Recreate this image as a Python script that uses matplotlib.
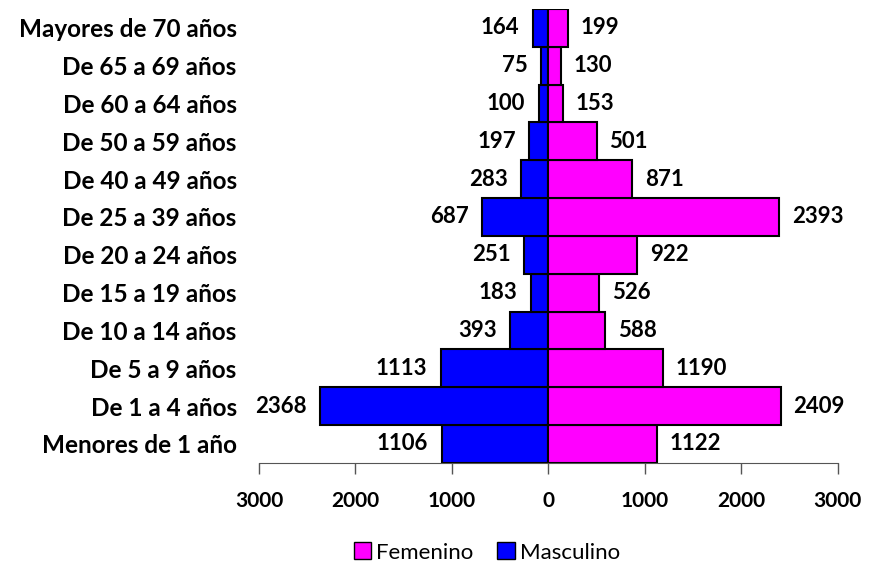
import numpy as np
import matplotlib
matplotlib.use('Agg')
import matplotlib.pyplot as plt
import matplotlib.patches as mpatches

plt.rcParams['font.family'] = ['Lato', 'DejaVu Sans']

grupos = ['Menores de 1 año', 'De 1 a 4 años', 'De 5 a 9 años', 'De 10 a 14 años',
          'De 15 a 19 años', 'De 20 a 24 años', 'De 25 a 39 años', 'De 40 a 49 años',
          'De 50 a 59 años', 'De 60 a 64 años', 'De 65 a 69 años', 'Mayores de 70 años']
masculino = [1106, 2368, 1113, 393, 183, 251, 687, 283, 197, 100, 75, 164]
femenino = [1122, 2409, 1190, 588, 526, 922, 2393, 871, 501, 153, 130, 199]
xticks = [-3000, -2000, -1000, 0, 1000, 2000, 3000]

fig = plt.figure(figsize=(8.69, 5.63), dpi=100)
ax = fig.add_axes([0.298, 0.178, 0.666, 0.806])

y = np.arange(len(grupos))
ax.barh(y, -np.array(masculino), height=1.0, color='#0000FF', edgecolor='black', linewidth=1.5)
ax.barh(y, femenino, height=1.0, color='#FF00FF', edgecolor='black', linewidth=1.5)

for i in range(len(grupos)):
    ax.text(-masculino[i] - 140, y[i], str(masculino[i]), ha='right', va='center',
            fontsize=16, fontweight='bold')
    ax.text(femenino[i] + 130, y[i], str(femenino[i]), ha='left', va='center',
            fontsize=16, fontweight='bold')

ax.set_xlim(-3000, 3000)
ax.set_ylim(-0.5, len(grupos) - 0.5)
ax.set_xticks(xticks)
ax.set_xticklabels([str(abs(t)) for t in xticks], fontsize=15, fontweight='bold')
ax.set_yticks(y)
ax.set_yticklabels(grupos, fontsize=17.5, fontweight='bold')
ax.tick_params(axis='y', length=0, pad=16)
ax.tick_params(axis='x', direction='out', length=8, width=1, color='#555555', pad=12)

for s in ['top', 'right', 'left']:
    ax.spines[s].set_visible(False)
ax.spines['bottom'].set_color('#555555')

fem_leg = mpatches.Patch(facecolor='#FF00FF', edgecolor='black', label='Femenino')
mas_leg = mpatches.Patch(facecolor='#0000FF', edgecolor='black', label='Masculino')
fig.legend(handles=[fem_leg, mas_leg], loc='lower center', bbox_to_anchor=(0.56, -0.035),
           ncol=2, frameon=False, fontsize=16, handlelength=0.8, handleheight=0.8,
           handletextpad=0.2, columnspacing=1.1)

plt.savefig('out.png', dpi=100)
